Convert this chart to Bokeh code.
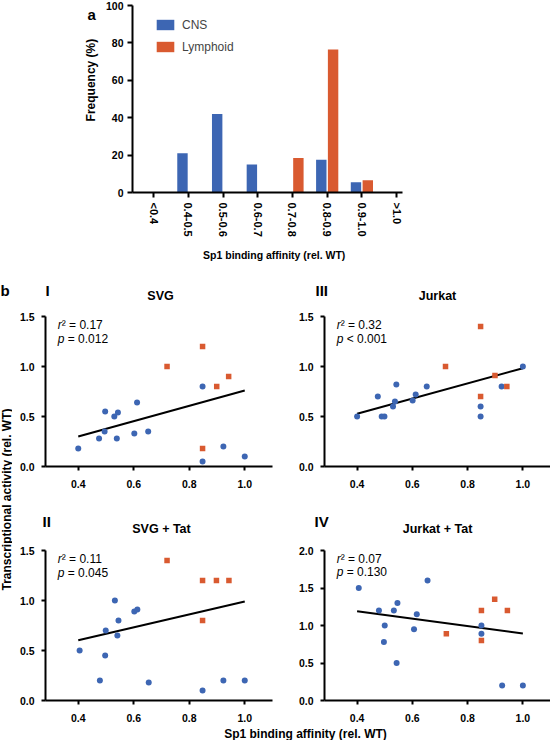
import numpy as np
from bokeh.plotting import figure
from bokeh.models import Range1d, FixedTicker, PrintfTickFormatter, Label, Legend, LegendItem
from bokeh.layouts import column, row
from bokeh.embed import file_html
from bokeh.resources import INLINE

FONT = "Liberation Sans"
BLUE = "#3D66B3"
ORANGE = "#D95A30"

# ---------------- panel a data ----------------
bins = ["<0.4", "0.4-0.5", "0.5-0.6", "0.6-0.7", "0.7-0.8", "0.8-0.9", "0.9-1.0", ">1.0"]
cns_freq = [0, 21, 42, 15, 0, 17.5, 5.5, 0]
lymphoid_freq = [0, 0, 0, 0, 18.5, 76.5, 6.5, 0]
freq_ticks = [0, 20, 40, 60, 80, 100]

# ---------------- panel b data ----------------
affinity_ticks = [0.4, 0.6, 0.8, 1.0]
activity_ticks = [0.0, 0.5, 1.0, 1.5]
activity_ticks_iv = [0.0, 0.5, 1.0, 1.5, 2.0]
fit_x = [0.40, 1.0]

# I  SVG
svg_cns_x = [0.40, 0.475, 0.495, 0.497, 0.53, 0.543, 0.539, 0.602, 0.612, 0.652, 0.848, 0.848, 0.923, 1.0]
svg_cns_y = [0.18, 0.28, 0.35, 0.55, 0.50, 0.54, 0.28, 0.33, 0.64, 0.35, 0.80, 0.05, 0.20, 0.10]
svg_lym_x = [0.72, 0.848, 0.899, 0.942, 0.848]
svg_lym_y = [1.00, 1.20, 0.80, 0.90, 0.18]
svg_fit_y = [0.30, 0.76]

# III  Jurkat
jur_cns_x = [0.40, 0.475, 0.489, 0.499, 0.53, 0.537, 0.542, 0.601, 0.612, 0.652, 0.847, 0.847, 0.923, 1.0]
jur_cns_y = [0.50, 0.70, 0.50, 0.50, 0.60, 0.65, 0.82, 0.66, 0.72, 0.80, 0.60, 0.50, 0.80, 1.00]
jur_lym_x = [0.72, 0.847, 0.847, 0.899, 0.942]
jur_lym_y = [1.00, 1.40, 0.70, 0.91, 0.80]
jur_fit_y = [0.527, 0.983]

# II  SVG + Tat
svgt_cns_x = [0.405, 0.478, 0.497, 0.499, 0.532, 0.545, 0.541, 0.602, 0.613, 0.654, 0.848, 0.923, 1.0]
svgt_cns_y = [0.50, 0.20, 0.45, 0.70, 1.00, 0.80, 0.65, 0.89, 0.91, 0.18, 0.10, 0.20, 0.20]
svgt_lym_x = [0.72, 0.848, 0.898, 0.943, 0.848]
svgt_lym_y = [1.40, 1.20, 1.20, 1.20, 0.80]
svgt_fit_y = [0.603, 0.99]

# IV  Jurkat + Tat
jurt_cns_x = [0.406, 0.479, 0.50, 0.497, 0.533, 0.546, 0.543, 0.606, 0.616, 0.655, 0.85, 0.85, 0.925, 1.0]
jurt_cns_y = [1.50, 1.20, 1.00, 0.78, 1.20, 1.30, 0.50, 0.95, 1.15, 1.60, 1.00, 0.89, 0.20, 0.20]
jurt_lym_x = [0.723, 0.85, 0.898, 0.944, 0.85]
jurt_lym_y = [0.89, 1.20, 1.35, 1.20, 0.80]
jurt_fit_y = [1.191, 0.893]


def style_axes(p, tick_size, tick_out=4, y_standoff=7, x_standoff=9):
    for ax in list(p.xaxis) + list(p.yaxis):
        ax.axis_line_width = 2
        ax.axis_line_color = "black"
        ax.major_tick_line_width = 2
        ax.major_tick_line_color = "black"
        ax.major_tick_out = tick_out
        ax.major_tick_in = 0
        ax.minor_tick_line_color = None
        ax.major_label_text_font = FONT
        ax.major_label_text_font_style = "bold"
        ax.major_label_text_font_size = tick_size
        ax.major_label_text_color = "black"
    for ax in p.yaxis:
        ax.major_label_standoff = y_standoff
    for ax in p.xaxis:
        ax.major_label_standoff = x_standoff
    p.grid.visible = False
    p.outline_line_color = None
    p.background_fill_color = "white"
    p.border_fill_color = "white"


def txt(p, x, y, text, size="11px", style="normal", align="left", baseline="middle", x_offset=0, angle=0):
    p.add_layout(Label(x=x, y=y, text=text, text_font=FONT, text_font_size=size,
                       text_font_style=style, text_align=align, text_baseline=baseline,
                       text_color="black", x_offset=x_offset, angle=angle))


def strip(w, h):
    s = figure(width=w, height=h, x_range=Range1d(0, w), y_range=Range1d(0, h),
               output_backend="svg", toolbar_location=None, min_border=0,
               x_axis_location=None, y_axis_location=None)
    s.grid.visible = False
    s.outline_line_color = None
    return s


# ---------------- panel a ----------------
a_left = strip(102, 247)
txt(a_left, 87, 247, "a", size="15px", style="bold", baseline="top")
txt(a_left, 90, 148.5, "Frequency (%)", size="12px", style="bold", align="center", angle=np.pi / 2)

pa = figure(width=448, height=247, x_range=Range1d(-0.61, 7.17), y_range=Range1d(0, 100),
            output_backend="svg", toolbar_location=None,
            min_border_left=27, min_border_right=148, min_border_top=5, min_border_bottom=55)
pos = list(range(len(bins)))
r_cns = pa.vbar(x=[i - 0.17 for i in pos], top=cns_freq, width=0.30, fill_color=BLUE, line_color=None)
r_lym = pa.vbar(x=[i + 0.17 for i in pos], top=lymphoid_freq, width=0.30, fill_color=ORANGE, line_color=None)
style_axes(pa, "10.5px", tick_out=5, y_standoff=4, x_standoff=5)
pa.xaxis.ticker = FixedTicker(ticks=pos)
pa.xaxis.major_label_overrides = {i: b for i, b in zip(pos, bins)}
pa.xaxis.major_label_orientation = "vertical"
pa.xaxis.major_label_text_font_size = "11px"
pa.yaxis.ticker = FixedTicker(ticks=freq_ticks)
legend = Legend(items=[LegendItem(label="CNS", renderers=[r_cns]),
                       LegendItem(label="Lymphoid", renderers=[r_lym])],
                location=(22, 138), glyph_width=22, glyph_height=13, label_height=15,
                spacing=7, padding=0, margin=0, border_line_color=None,
                background_fill_alpha=0, label_text_font=FONT, label_text_font_size="12px",
                label_standoff=6)
pa.add_layout(legend)

# strip between a and b: a's x label and the b headers of row 1
s1 = strip(550, 63)
txt(s1, 273.7, 55.5, "Sp1 binding affinity (rel. WT)", size="10.5px", style="bold", align="center")
txt(s1, 0, 20.5, "b", size="15px", style="bold")
txt(s1, 45, 20.5, "I", size="15px", style="bold")
txt(s1, 160, 15, "SVG", size="12.5px", style="bold", align="center")
txt(s1, 315, 20.5, "III", size="15px", style="bold")
txt(s1, 437, 15, "Jurkat", size="12.5px", style="bold", align="center")


# ---------------- panel b ----------------
def scatter_panel(w, h, left, right, top, bottom, y_end, y_ticks, cx, cy, lx, ly, fy, r2, ptxt, y_r2, y_p):
    p = figure(width=w, height=h, x_range=Range1d(0.282, 1.1), y_range=Range1d(0, y_end),
               output_backend="svg", toolbar_location=None,
               min_border_left=left, min_border_right=right, min_border_top=top, min_border_bottom=bottom)
    p.line(fit_x, fy, line_color="black", line_width=2)
    p.scatter(cx, cy, marker="circle", size=6, fill_color=BLUE, line_color=None)
    p.scatter(lx, ly, marker="square", size=5.5, fill_color=ORANGE, line_color=None)
    style_axes(p, "10.5px")
    p.xaxis.ticker = FixedTicker(ticks=affinity_ticks)
    p.yaxis.ticker = FixedTicker(ticks=y_ticks)
    p.xaxis.formatter = PrintfTickFormatter(format="%.1f")
    p.yaxis.formatter = PrintfTickFormatter(format="%.1f")
    txt(p, 0.326, y_r2, "r", size="12px", style="italic")
    txt(p, 0.326, y_r2, "\u00b2 = " + r2, size="12px", x_offset=4)
    txt(p, 0.326, y_p, "p", size="12px", style="italic")
    txt(p, 0.326, y_p, ptxt, size="12px", x_offset=10)
    return p


p1 = scatter_panel(272, 185, 33, 12, 6, 29, 1.5, activity_ticks, svg_cns_x, svg_cns_y, svg_lym_x, svg_lym_y,
                   svg_fit_y, "0.17", "= 0.012", 1.42, 1.28)
p3 = scatter_panel(266, 185, 40, 0, 6, 29, 1.5, activity_ticks, jur_cns_x, jur_cns_y, jur_lym_x, jur_lym_y,
                   jur_fit_y, "0.32", "< 0.001", 1.42, 1.28)
p2 = scatter_panel(272, 182, 33, 12, 6, 26, 1.5, activity_ticks, svgt_cns_x, svgt_cns_y, svgt_lym_x, svgt_lym_y,
                   svgt_fit_y, "0.11", "= 0.045", 1.42, 1.28)
p4 = scatter_panel(266, 182, 40, 0, 6, 26, 2.0, activity_ticks_iv, jurt_cns_x, jurt_cns_y, jurt_lym_x, jurt_lym_y,
                   jurt_fit_y, "0.07", "= 0.130", 1.893, 1.707)

# headers of row 2
s2 = strip(538, 49)
txt(s2, 30, 23, "II", size="15px", style="bold")
txt(s2, 149, 16, "SVG + Tat", size="12.5px", style="bold", align="center")
txt(s2, 302, 23.5, "IV", size="15px", style="bold")
txt(s2, 425, 16, "Jurkat + Tat", size="12.5px", style="bold", align="center")

# shared y label
ylab = strip(12, 430)
txt(ylab, 6, 241, "Transcriptional activity (rel. WT)", size="12px", style="bold", align="center",
    angle=np.pi / 2)

# shared x label
xlab = strip(538, 14)
txt(xlab, 293, 7, "Sp1 binding affinity (rel. WT)", size="12px", style="bold", align="center")

layout = column(row(a_left, pa), s1,
                row(ylab, column(row(p1, p3), s2, row(p2, p4), xlab)))
open("out.html", "w").write(file_html(layout, INLINE))
